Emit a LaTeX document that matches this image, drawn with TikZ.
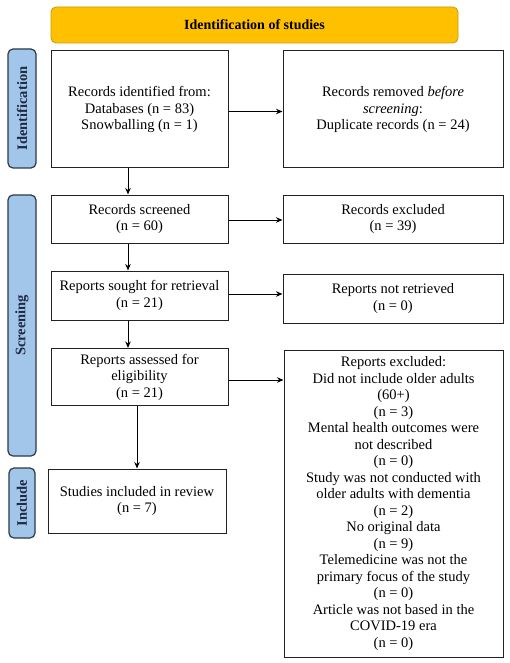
\documentclass[tikz,border=0pt]{standalone}
\usepackage{fontspec}
\setmainfont{Liberation Serif}
\usetikzlibrary{arrows.meta}
\definecolor{bannerfill}{HTML}{FFC000}
\definecolor{bannerline}{HTML}{C99A06}
\definecolor{sidefill}{HTML}{A2C6EA}
\definecolor{sideline}{HTML}{2B3A4A}
\definecolor{sidetext}{HTML}{1F2A44}
\definecolor{boxline}{HTML}{222222}
\tikzset{
  box/.style={draw=boxline, line width=1pt, fill=white, align=center, inner sep=0pt,
    font=\fontsize{14.5}{16.5}\selectfont},
  banner/.style={draw=bannerline, line width=0.8pt, fill=bannerfill, rounded corners=5pt,
    inner sep=0pt, font=\bfseries\fontsize{14}{16}\selectfont},
  side/.style={draw=sideline, line width=1.2pt, fill=sidefill, rounded corners=5pt,
    inner sep=0pt, minimum height=28pt, rotate=90, text=sidetext,
    font=\bfseries\fontsize{14.5}{16}\selectfont},
  arr/.style={-{Stealth[length=6.5pt,width=5.5pt]}, line width=1pt, draw=black},
}
\begin{document}
\begin{tikzpicture}[x=1pt,y=-1pt]
\useasboundingbox (0,0) rectangle (510,663);
\fill[white] (0,0) rectangle (510,663);

\node[banner, minimum width=407pt, minimum height=36pt] (title) at (254.5,25) {Identification of studies};

\node[side, minimum width=119pt] (sid) at (22,108.5) {Identification};
\node[side, minimum width=261pt] (sscr) at (22,325.5) {Screening};
\node[side, minimum width=70pt, minimum height=26pt] (sinc) at (22,503) {Include};

\node[box, minimum width=177pt, minimum height=117pt] (ident) at (139.5,109.5)
  {Records identified from:\\ Databases (n = 83)\\ Snowballing (n = 1)};
\node[box, minimum width=220pt, minimum height=117pt] (removed) at (393,109.5)
  {Records removed \textit{before}\\ \textit{screening}:\\ Duplicate records (n = 24)};

\node[box, minimum width=177pt, minimum height=48pt] (screened) at (139.5,219)
  {Records screened\\ (n = 60)};
\node[box, minimum width=220pt, minimum height=48pt] (rexcl) at (393,219)
  {Records excluded\\ (n = 39)};

\node[box, minimum width=177pt, minimum height=49pt] (sought) at (139.5,295.5)
  {Reports sought for retrieval\\ (n = 21)};
\node[box, minimum width=220pt, minimum height=49pt] (notret) at (393,298.5)
  {Reports not retrieved\\ (n = 0)};

\node[box, minimum width=177pt, minimum height=57pt] (assessed) at (139.5,377)
  {Reports assessed for\\ eligibility\\ (n = 21)};
\node[box, minimum width=219pt, minimum height=307pt] (repexcl) at (393.5,503.5)
  {Reports excluded:\\ Did not include older adults\\ (60+)\\ (n = 3)\\
   Mental health outcomes were\\ not described\\ (n = 0)\\
   Study was not conducted with\\ older adults with dementia\\ (n = 2)\\
   No original data\\ (n = 9)\\
   Telemedicine was not the\\ primary focus of the study\\ (n = 0)\\
   Article was not based in the\\ COVID-19 era\\ (n = 0)};

\node[box, minimum width=178pt, minimum height=64pt] (included) at (137,501)
  {Studies included in review\\ (n = 7)};

% horizontal arrows
\draw[arr] ([yshift=-2pt]ident.east) -- ([yshift=-2pt]ident.east -| removed.west);
\draw[arr] ([yshift=-1pt]screened.east) -- ([yshift=-1pt]screened.east -| rexcl.west);
\draw[arr] ([yshift=1.5pt]sought.east) -- ([yshift=1.5pt]sought.east -| notret.west);
\draw[arr] ([yshift=-3pt]assessed.east) -- ([yshift=-3pt]assessed.east -| repexcl.west);

% vertical arrows
\draw[arr] ([xshift=-11.5pt]ident.south) -- ([xshift=-11.5pt]ident.south |- screened.north);
\draw[arr] ([xshift=-11.5pt]screened.south) -- ([xshift=-11.5pt]screened.south |- sought.north);
\draw[arr] ([xshift=-11.5pt]sought.south) -- ([xshift=-11.5pt]sought.south |- assessed.north);
\draw[arr] (included.north |- assessed.south) -- (included.north);
\end{tikzpicture}
\end{document}
